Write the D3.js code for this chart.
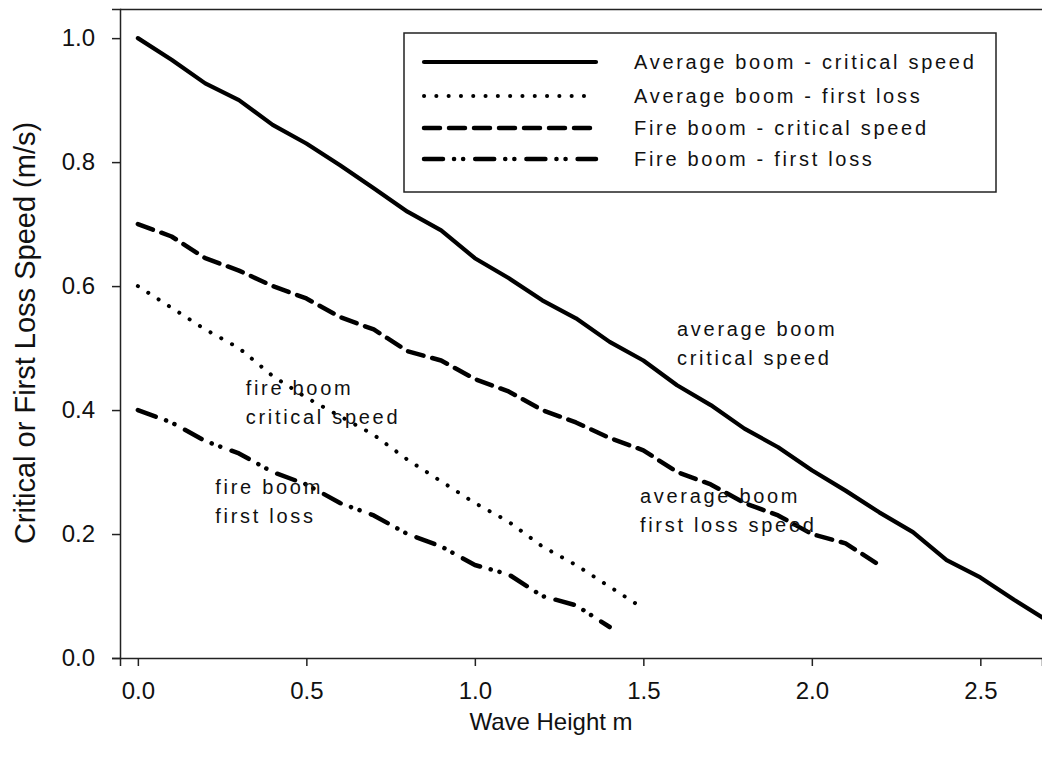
<!DOCTYPE html>
<html>
<head>
<meta charset="utf-8">
<script src="https://cdn.jsdelivr.net/npm/d3@7"></script>
<style>
  body { margin: 0; background: #fff; }
  text { font-family: "Liberation Sans", Arial, sans-serif; fill: #111; }
</style>
</head>
<body>
<svg id="chart"></svg>
<script>
const waveHeight = [0.0, 0.1, 0.2, 0.3, 0.4, 0.5, 0.6, 0.7, 0.8, 0.9, 1.0, 1.1, 1.2, 1.3, 1.4,
  1.5, 1.6, 1.7, 1.8, 1.9, 2.0, 2.1, 2.2, 2.3, 2.4, 2.5, 2.6, 2.7];
const avgCritical = [1.0, 0.965, 0.927, 0.9, 0.86, 0.83, 0.795, 0.758, 0.72, 0.69, 0.645, 0.613,
  0.577, 0.548, 0.51, 0.48, 0.44, 0.408, 0.37, 0.34, 0.303, 0.27, 0.235, 0.203, 0.158, 0.13, 0.094, 0.06];
const avgFirstLoss = [0.6, 0.565, 0.53, 0.5, 0.455, 0.42, 0.39, 0.36, 0.32, 0.285, 0.25, 0.22,
  0.18, 0.15, 0.115, 0.08];
const fireCritical = [0.7, 0.68, 0.645, 0.625, 0.6, 0.58, 0.55, 0.53, 0.495, 0.48, 0.45, 0.43,
  0.4, 0.38, 0.355, 0.335, 0.3, 0.28, 0.25, 0.23, 0.2, 0.185, 0.15];
const fireFirstLoss = [0.4, 0.38, 0.35, 0.33, 0.3, 0.28, 0.25, 0.23, 0.2, 0.18, 0.15, 0.135,
  0.1, 0.085, 0.05];
const seriesNames = ["Average boom - critical speed", "Average boom - first loss",
  "Fire boom - critical speed", "Fire boom - first loss"];
const xTicks = [0.0, 0.5, 1.0, 1.5, 2.0, 2.5];
const yTicks = [0.0, 0.2, 0.4, 0.6, 0.8, 1.0];
const notes = [
  { x: 1.6, y: 0.52, lines: ["average boom", "critical speed"] },
  { x: 0.32, y: 0.425, lines: ["fire boom", "critical speed"] },
  { x: 0.23, y: 0.265, lines: ["fire boom", "first loss"] },
  { x: 1.49, y: 0.25, lines: ["average boom", "first loss speed"] }
];

const width = 1042, height = 770;
const margin = { top: 9, right: 0, bottom: 112, left: 120 };

const svg = d3.select("#chart").attr("width", width).attr("height", height);

const x = d3.scaleLinear().domain([-0.053, 2.683]).range([margin.left, width - margin.right]);
const y = d3.scaleLinear().domain([0, 1.047]).range([height - margin.bottom, margin.top]);

const series = [
  { vals: avgCritical, dash: null, width: 4.2, cap: "round" },
  { vals: avgFirstLoss, dash: "0.1 12.2", width: 4, cap: "round" },
  { vals: fireCritical, dash: "16 9", width: 4.5, cap: "round" },
  { vals: fireFirstLoss, dash: "19 11 0.1 9 0.1 12", width: 4.5, cap: "round" }
];

const line = d3.line().x(d => x(d[0])).y(d => y(d[1]));

// frame: top border + axes
svg.append("line")
  .attr("x1", margin.left).attr("x2", width)
  .attr("y1", margin.top + 0.5).attr("y2", margin.top + 0.5)
  .attr("stroke", "#222").attr("stroke-width", 1.5);

const xAxis = svg.append("g")
  .attr("transform", `translate(0,${height - margin.bottom})`)
  .call(d3.axisBottom(x).tickValues(xTicks).tickFormat(d3.format(".1f")).tickSize(8).tickPadding(16));
const yAxis = svg.append("g")
  .attr("transform", `translate(${margin.left},0)`)
  .call(d3.axisLeft(y).tickValues(yTicks).tickFormat(d3.format(".1f")).tickSize(8).tickPadding(17));

[xAxis, yAxis].forEach(g => {
  g.select(".domain").attr("stroke", "#222").attr("stroke-width", 1.5);
  g.selectAll(".tick line").attr("stroke", "#222").attr("stroke-width", 1.5);
  g.selectAll(".tick text").attr("font-size", 24).attr("fill", "#222")
    .style("font-family", "'Liberation Sans', Arial, sans-serif");
});

// series
series.forEach(s => {
  svg.append("path")
    .datum(s.vals.map((v, i) => [waveHeight[i], v]))
    .attr("d", line)
    .attr("fill", "none")
    .attr("stroke", "#000")
    .attr("stroke-width", s.width)
    .attr("stroke-linecap", s.cap)
    .attr("stroke-linejoin", "round")
    .attr("stroke-dasharray", s.dash);
});

// annotations
notes.forEach(n => {
  const t = svg.append("text").attr("font-size", 20).attr("letter-spacing", 2.7)
    .attr("x", x(n.x)).attr("y", y(n.y));
  n.lines.forEach((l, i) => {
    t.append("tspan").attr("x", x(n.x)).attr("dy", i === 0 ? 0 : 29).text(l);
  });
});

// legend
const legend = svg.append("g").attr("transform", "translate(404,33)");
legend.append("rect")
  .attr("width", 592).attr("height", 159)
  .attr("fill", "#fff").attr("stroke", "#222").attr("stroke-width", 1.5);
const rowY = [29, 63, 95, 126];
seriesNames.forEach((name, i) => {
  legend.append("line")
    .attr("x1", 20).attr("x2", 192)
    .attr("y1", rowY[i]).attr("y2", rowY[i])
    .attr("stroke", "#000")
    .attr("stroke-width", series[i].width)
    .attr("stroke-linecap", series[i].cap)
    .attr("stroke-dasharray", series[i].dash);
  legend.append("text")
    .attr("x", 230).attr("y", rowY[i] + 7)
    .attr("font-size", 20).attr("letter-spacing", 2.7)
    .text(name);
});

// axis titles
svg.append("text")
  .attr("x", 551).attr("y", 730)
  .attr("text-anchor", "middle").attr("font-size", 24)
  .text("Wave Height m");
svg.append("text")
  .attr("transform", "translate(35,333) rotate(-90)")
  .attr("text-anchor", "middle").attr("font-size", 29)
  .text("Critical or First Loss Speed (m/s)");
</script>
</body>
</html>
